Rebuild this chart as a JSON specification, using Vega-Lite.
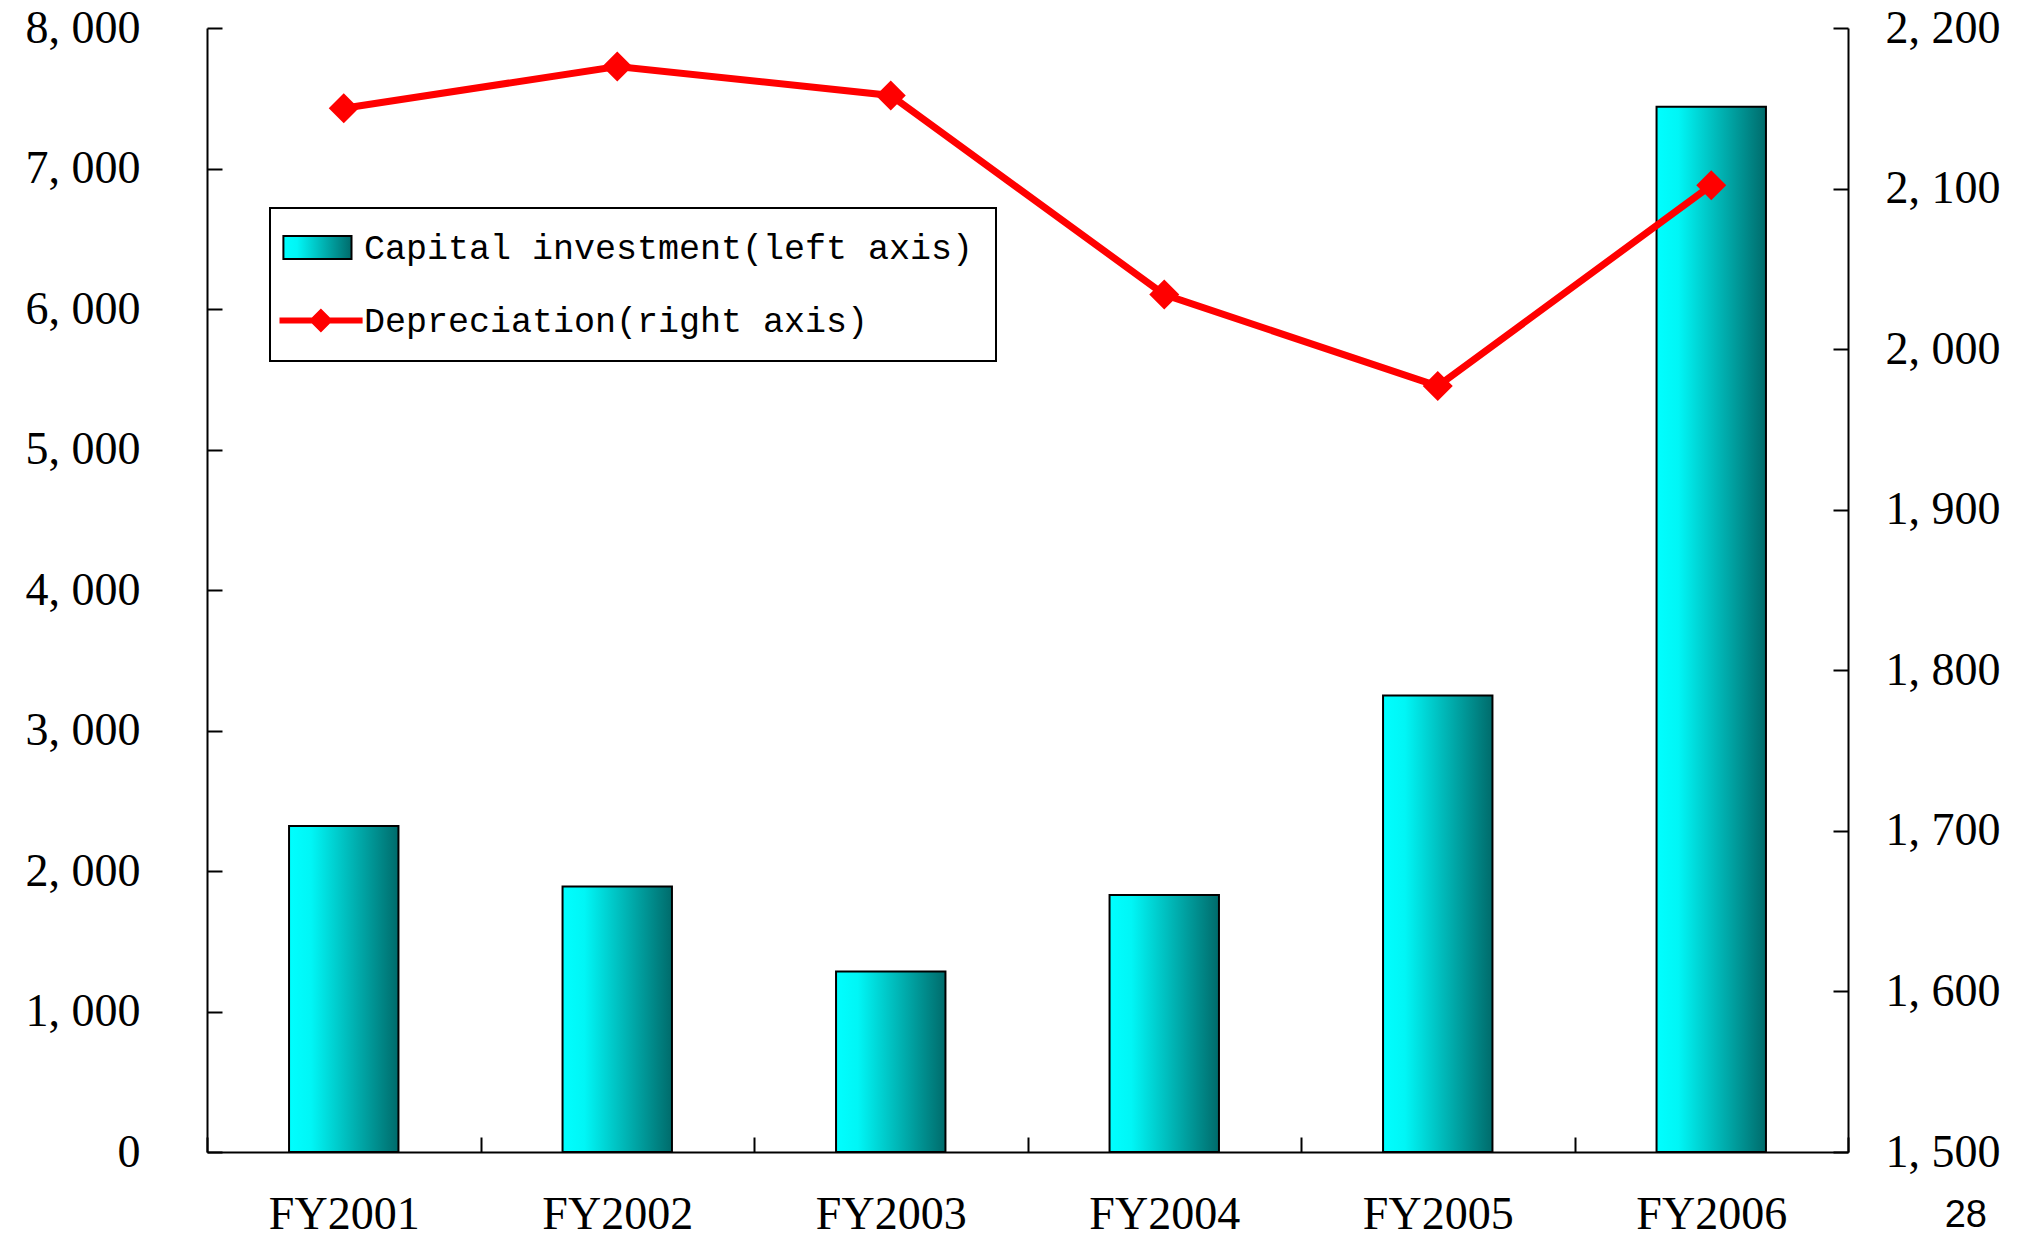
{
  "$schema": "https://vega.github.io/schema/vega-lite/v6.json",
  "width": 1641,
  "height": 1124,
  "autosize": {"type": "none"},
  "padding": {"left": 207, "top": 28, "right": 169, "bottom": 88},
  "background": "white",
  "config": {
    "view": {"stroke": null},
    "axis": {
      "domainColor": "black",
      "domainWidth": 2,
      "tickColor": "black",
      "tickWidth": 2,
      "tickSize": -15,
      "grid": false,
      "labelColor": "black",
      "labelFont": "Liberation Serif",
      "title": null
    }
  },
  "title": {
    "text": "28",
    "orient": "bottom",
    "anchor": "end",
    "frame": "group",
    "baseline": "alphabetic",
    "offset": 0,
    "font": "Liberation Sans",
    "fontSize": 38,
    "fontWeight": "normal",
    "color": "black",
    "dx": 139,
    "dy": -10
  },
  "data": {
    "values": [
      {"year": "FY2001", "capex": 2320, "dep": 2150},
      {"year": "FY2002", "capex": 1890, "dep": 2176},
      {"year": "FY2003", "capex": 1285, "dep": 2158},
      {"year": "FY2004", "capex": 1830, "dep": 2034},
      {"year": "FY2005", "capex": 3250, "dep": 1977},
      {"year": "FY2006", "capex": 7440, "dep": 2102}
    ]
  },
  "encoding": {
    "x": {
      "field": "year",
      "type": "nominal",
      "sort": null,
      "scale": {"paddingInner": 0, "paddingOuter": 0},
      "axis": {
        "labelAngle": 0,
        "tickBand": "extent",
        "labelFontSize": 46,
        "labelBaseline": "alphabetic",
        "labelPadding": 91,
        "title": null
      }
    }
  },
  "layer": [
    {
      "mark": {
        "type": "bar",
        "width": {"band": 0.4},
        "fill": {
          "gradient": "linear",
          "x1": 0, "y1": 0, "x2": 1, "y2": 0,
          "stops": [
            {"offset": 0, "color": "#00ffff"},
            {"offset": 0.2, "color": "#00f6f6"},
            {"offset": 1, "color": "#006b6b"}
          ]
        },
        "stroke": "black",
        "strokeWidth": 2
      },
      "encoding": {
        "y": {
          "field": "capex",
          "type": "quantitative",
          "scale": {"domain": [0, 8000], "nice": false},
          "axis": {
            "orient": "left",
            "values": [0, 1000, 2000, 3000, 4000, 5000, 6000, 7000, 8000],
            "labelFontSize": 46,
            "labelPadding": 82,
            "labelExpr": "replace(format(datum.value, ','), ',', ', ')",
            "title": null
          }
        }
      }
    },
    {
      "mark": {
        "type": "line",
        "strokeWidth": 7,
        "point": {"shape": "diamond", "size": 900, "filled": true, "opacity": 1, "fill": "#ff0000", "strokeWidth": 0}
      },
      "encoding": {
        "y": {
          "field": "dep",
          "type": "quantitative",
          "scale": {"domain": [1500, 2200], "nice": false, "zero": false},
          "axis": {
            "orient": "right",
            "values": [1500, 1600, 1700, 1800, 1900, 2000, 2100, 2200],
            "labelFontSize": 46,
            "labelPadding": 52,
            "labelExpr": "replace(format(datum.value, ','), ',', ', ')",
            "title": null
          }
        },
        "stroke": {
          "datum": "Depreciation(right axis)",
          "scale": {
            "domain": ["Capital investment(left axis)", "Depreciation(right axis)"],
            "range": ["#000000", "#ff0000"]
          },
          "legend": {
            "orient": "none",
            "legendX": 63,
            "legendY": 180,
            "title": null,
            "strokeColor": "black",
            "fillColor": "white",
            "padding": 22,
            "symbolSize": 3600,
            "rowPadding": 37,
            "labelOffset": 37,
            "labelFont": "Liberation Mono",
            "labelFontSize": 35,
            "labelColor": "black",
            "labelLimit": 0,
            "encode": {
              "legend": {"update": {"strokeWidth": {"value": 2}}},
              "symbols": {
                "update": {
                  "shape": {"signal": "datum.index === 0 ? 'M-0.87,-0.38H1.4V0.38H-0.87Z' : 'M-1,-0.1H0.08L0.38,-0.4L0.68,-0.1H1.77V0.1H0.68L0.38,0.4L0.08,0.1H-1Z'"},
                  "size": {"value": 3600},
                  "fill": {"signal": "datum.index === 0 ? {gradient: 'linear', x1: 0, y1: 0, x2: 1, y2: 0, stops: [{offset: 0, color: '#00ffff'}, {offset: 0.2, color: '#00f6f6'}, {offset: 1, color: '#006b6b'}]} : '#ff0000'"},
                  "strokeWidth": {"signal": "datum.index === 0 ? 2 : 0"},
                  "opacity": {"value": 1},
                  "fillOpacity": {"value": 1}
                }
              }
            }
          }
        }
      }
    }
  ],
  "resolve": {"scale": {"y": "independent"}}
}
